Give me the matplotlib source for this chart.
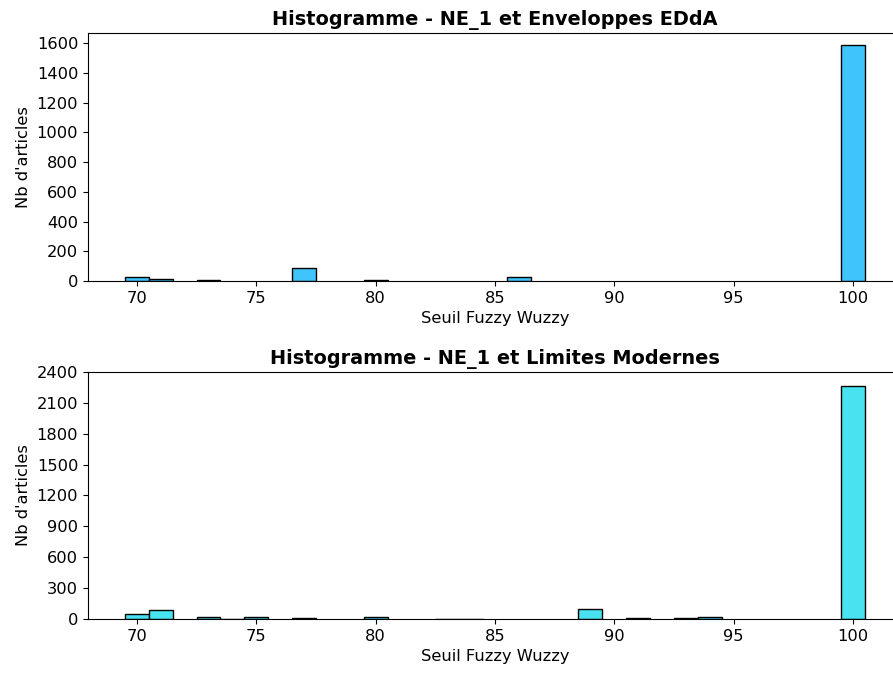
import matplotlib
matplotlib.use('Agg')
import matplotlib.pyplot as plt
import numpy as np

# scores (bin centres) and article counts
seuils_edda = [70, 71, 73, 77, 80, 86, 100]
counts_edda = [25, 15, 5, 88, 5, 25, 1590]

seuils_lm = [70, 71, 73, 74, 75, 77, 80, 83, 84, 89, 91, 93, 94, 100]
counts_lm = [45, 85, 20, 5, 20, 8, 20, 5, 5, 95, 8, 8, 20, 2267]

plt.rcParams['font.size'] = 11.7

fig = plt.figure(figsize=(8.93, 6.73), dpi=100)
ax1 = fig.add_axes([0.0985, 0.5825, 0.9115, 0.3685])
ax2 = fig.add_axes([0.0985, 0.0802, 0.9115, 0.3671])

ax1.bar(seuils_edda, counts_edda, width=1, color='#40C4FC', edgecolor='black', linewidth=1)
ax1.set_title("Histogramme - NE_1 et Enveloppes EDdA", fontweight='bold', fontsize=13.9)
ax1.set_xlabel("Seuil Fuzzy Wuzzy")
ax1.set_ylabel("Nb d'articles")
ax1.set_yticks(range(0, 1601, 200))

ax2.bar(seuils_lm, counts_lm, width=1, color='#48E2F0', edgecolor='black', linewidth=1)
ax2.set_title("Histogramme - NE_1 et Limites Modernes", fontweight='bold', fontsize=13.9)
ax2.set_xlabel("Seuil Fuzzy Wuzzy")
ax2.set_ylabel("Nb d'articles")
ax2.set_yticks(range(0, 2401, 300))
ax2.set_ylim(0, 2400)

for ax in (ax1, ax2):
    ax.set_xticks(range(70, 101, 5))

fig.savefig('out.png', dpi=100)
